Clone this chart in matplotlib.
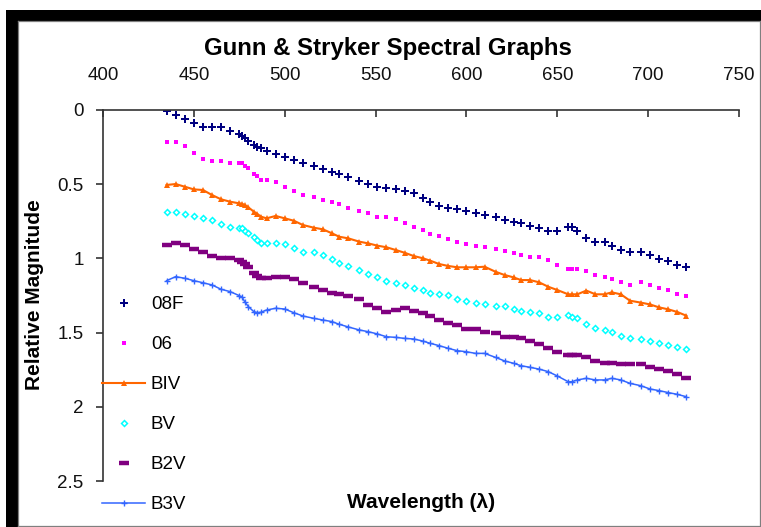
import matplotlib
matplotlib.use("Agg")
import matplotlib.pyplot as plt
from matplotlib.patches import Rectangle
from matplotlib.lines import Line2D

plt.rcParams['font.family'] = ['Liberation Sans', 'DejaVu Sans']

# Wavelength samples (nm)
wavelength = [435, 440, 445, 450, 455, 460, 465, 470, 475, 476.5, 478, 480, 483, 485, 487, 490, 495,
              500, 505, 510, 516, 521, 526, 530, 535,
              541, 546, 551, 556, 561, 566, 571, 576,
              580, 585, 590, 595, 600, 605, 610, 616,
              621, 626, 630, 635, 640, 645, 650, 656,
              658, 661, 666, 671, 676, 680, 685, 690,
              696, 701, 706, 711, 716, 721]

mag_08F = [0.010, 0.034, 0.063, 0.085, 0.112, 0.112, 0.112, 0.139, 0.164, 0.175, 0.191, 0.211, 0.236, 0.247, 0.254, 0.274, 0.299,
           0.314, 0.337, 0.359, 0.377, 0.400, 0.420, 0.431, 0.449,
           0.476, 0.499, 0.517, 0.523, 0.535, 0.546, 0.557, 0.595,
           0.618, 0.647, 0.660, 0.669, 0.681, 0.696, 0.708, 0.719,
           0.741, 0.753, 0.764, 0.779, 0.793, 0.815, 0.815, 0.791,
           0.791, 0.815, 0.865, 0.892, 0.892, 0.916, 0.943, 0.955,
           0.955, 0.980, 1.006, 1.018, 1.042, 1.056]

mag_06 = [0.218, 0.218, 0.243, 0.292, 0.333, 0.344, 0.344, 0.355, 0.355, 0.355, 0.375, 0.393, 0.431, 0.445, 0.472, 0.472, 0.483,
          0.521, 0.544, 0.573, 0.584, 0.606, 0.622, 0.633, 0.658,
          0.681, 0.696, 0.723, 0.723, 0.737, 0.759, 0.786, 0.809,
          0.836, 0.849, 0.871, 0.887, 0.901, 0.914, 0.925, 0.937,
          0.948, 0.962, 0.975, 0.988, 0.988, 1.011, 1.047, 1.074,
          1.074, 1.074, 1.085, 1.114, 1.128, 1.139, 1.161, 1.177,
          1.161, 1.177, 1.202, 1.213, 1.238, 1.251]

mag_BIV = [0.505, 0.499, 0.517, 0.535, 0.539, 0.573, 0.602, 0.618, 0.629, 0.632, 0.640, 0.656, 0.685, 0.701, 0.719, 0.730, 0.714,
           0.730, 0.746, 0.775, 0.793, 0.804, 0.831, 0.854, 0.865,
           0.887, 0.899, 0.914, 0.925, 0.943, 0.962, 0.984, 0.999,
           1.015, 1.038, 1.051, 1.060, 1.060, 1.060, 1.056, 1.090,
           1.112, 1.128, 1.146, 1.146, 1.161, 1.191, 1.213, 1.242,
           1.242, 1.242, 1.217, 1.242, 1.242, 1.229, 1.242, 1.285,
           1.298, 1.310, 1.330, 1.343, 1.361, 1.386]

mag_BV = [0.690, 0.690, 0.703, 0.714, 0.726, 0.741, 0.768, 0.791, 0.798, 0.798, 0.812, 0.827, 0.858, 0.876, 0.894, 0.894, 0.894,
          0.905, 0.928, 0.955, 0.955, 0.977, 1.006, 1.029, 1.049,
          1.078, 1.105, 1.123, 1.152, 1.166, 1.176, 1.201, 1.215,
          1.230, 1.240, 1.248, 1.272, 1.285, 1.303, 1.307, 1.321,
          1.321, 1.343, 1.354, 1.359, 1.370, 1.393, 1.393, 1.381,
          1.393, 1.404, 1.444, 1.471, 1.482, 1.498, 1.521, 1.534,
          1.545, 1.557, 1.572, 1.584, 1.595, 1.611]

mag_B2V = [0.910, 0.898, 0.910, 0.937, 0.959, 0.982, 0.995, 0.995, 1.011, 1.026, 1.040, 1.056, 1.096, 1.117, 1.134, 1.134, 1.123,
           1.123, 1.141, 1.164, 1.191, 1.213, 1.231, 1.242, 1.253,
           1.274, 1.314, 1.336, 1.363, 1.348, 1.336, 1.352, 1.366,
           1.388, 1.415, 1.437, 1.449, 1.476, 1.476, 1.494, 1.500,
           1.528, 1.528, 1.539, 1.555, 1.574, 1.602, 1.629, 1.651,
           1.651, 1.651, 1.667, 1.691, 1.703, 1.703, 1.714, 1.714,
           1.714, 1.730, 1.745, 1.757, 1.779, 1.804]

mag_B3V = [1.150, 1.123, 1.134, 1.150, 1.164, 1.179, 1.208, 1.224, 1.251, 1.260, 1.292, 1.325, 1.359, 1.366, 1.362, 1.348, 1.336,
           1.341, 1.366, 1.388, 1.404, 1.415, 1.426, 1.444, 1.462,
           1.482, 1.494, 1.509, 1.528, 1.532, 1.539, 1.543, 1.557,
           1.572, 1.588, 1.606, 1.622, 1.629, 1.640, 1.640, 1.667,
           1.691, 1.707, 1.723, 1.734, 1.746, 1.763, 1.792, 1.831,
           1.831, 1.819, 1.808, 1.819, 1.819, 1.808, 1.819, 1.842,
           1.858, 1.880, 1.891, 1.904, 1.916, 1.932]

x_ticks = [400, 450, 500, 550, 600, 650, 700, 750]
y_ticks = [0, 0.5, 1, 1.5, 2, 2.5]
y_tick_labels = ['0', '0.5', '1', '1.5', '2', '2.5']

W, H = 761, 527
fig = plt.figure(figsize=(W / 100, H / 100), dpi=100)
fig.patch.set_facecolor('white')

# Window-style frame: heavy black band on top and left, thin grey edge inside
fig.patches.append(Rectangle((6 / W, 0), (W - 6) / W, (H - 10) / H, transform=fig.transFigure,
                             facecolor='black', edgecolor='none', zorder=-10))
fig.patches.append(Rectangle((17.5 / W, 0), (W - 17.5) / W, (H - 20.5) / H, transform=fig.transFigure,
                             facecolor='white', edgecolor='none', zorder=-9))
grey = '#7f7f7f'
for xs, ys in [([17.5, 17.5], [0, H - 20.5]), ([17.5, W], [H - 20.5, H - 20.5]),
               ([759.5, 759.5], [1.5, H - 20.5]), ([17.5, 759.5], [1.5, 1.5])]:
    fig.lines.append(Line2D([x / W for x in xs], [y / H for y in ys], transform=fig.transFigure,
                            color=grey, lw=0.9, zorder=-8))

ax = fig.add_axes([103 / W, 46 / H, 636 / W, 371 / H])
ax.patch.set_visible(False)

ax.plot(wavelength, mag_08F, linestyle='none', marker='P', ms=5.5, color='#000080', mew=0, label='08F')
ax.plot(wavelength, mag_06, linestyle='none', marker='s', ms=3.2, color='#FF00FF', mew=0, label='06')
ax.plot(wavelength, mag_BIV, linestyle='-', lw=1.5, marker='^', ms=4.5, color='#FF6600', mew=0, label='BIV')
ax.plot(wavelength, mag_BV, linestyle='none', marker='D', ms=3.0, color='#00FFFF', mfc='white', mew=1.1, label='BV')
ax.plot(wavelength, mag_B2V, linestyle='none', marker='_', ms=6.5, color='#800080', mew=3.2, label='B2V')
ax.plot(wavelength, mag_B3V, linestyle='-', lw=1.1, marker='+', ms=4, color='#3366FF', mew=1.0, label='B3V')

ax.set_xlim(400, 750)
ax.set_ylim(2.5, 0)
ax.set_xticks(x_ticks)
ax.set_yticks(y_ticks)
ax.set_yticklabels(y_tick_labels)

spine_col = '#333333'
for side in ['bottom', 'right']:
    ax.spines[side].set_visible(False)
for side in ['top', 'left']:
    ax.spines[side].set_color(spine_col)
    ax.spines[side].set_linewidth(1.2)

ax.xaxis.set_ticks_position('top')
ax.tick_params(axis='x', direction='in', length=5, width=1.2, color=spine_col,
               labelsize=13.5, pad=19, labelcolor='#111111')
ax.tick_params(axis='y', direction='out', length=5, width=1.2, color=spine_col,
               labelsize=13.5, pad=9, labelcolor='#111111')

fig.text(388 / W, 1 - 48 / H, 'Gunn & Stryker Spectral Graphs', ha='center', va='center',
         fontsize=17.3, fontweight='bold')
fig.text(421 / W, 1 - 503 / H, 'Wavelength (λ)', ha='center', va='center',
         fontsize=15, fontweight='bold')
fig.text(35 / W, 1 - 295 / H, 'Relative Magnitude', ha='center', va='center', rotation=90,
         fontsize=15, fontweight='bold')

leg = ax.legend(loc='upper left', bbox_to_anchor=(102 / W, 1 - 296 / H), bbox_transform=fig.transFigure,
                frameon=False, fontsize=13.5, handlelength=2.3, handletextpad=0.3,
                labelspacing=1.22, borderpad=0, borderaxespad=0, numpoints=1)

fig.savefig('out.png', dpi=100)
